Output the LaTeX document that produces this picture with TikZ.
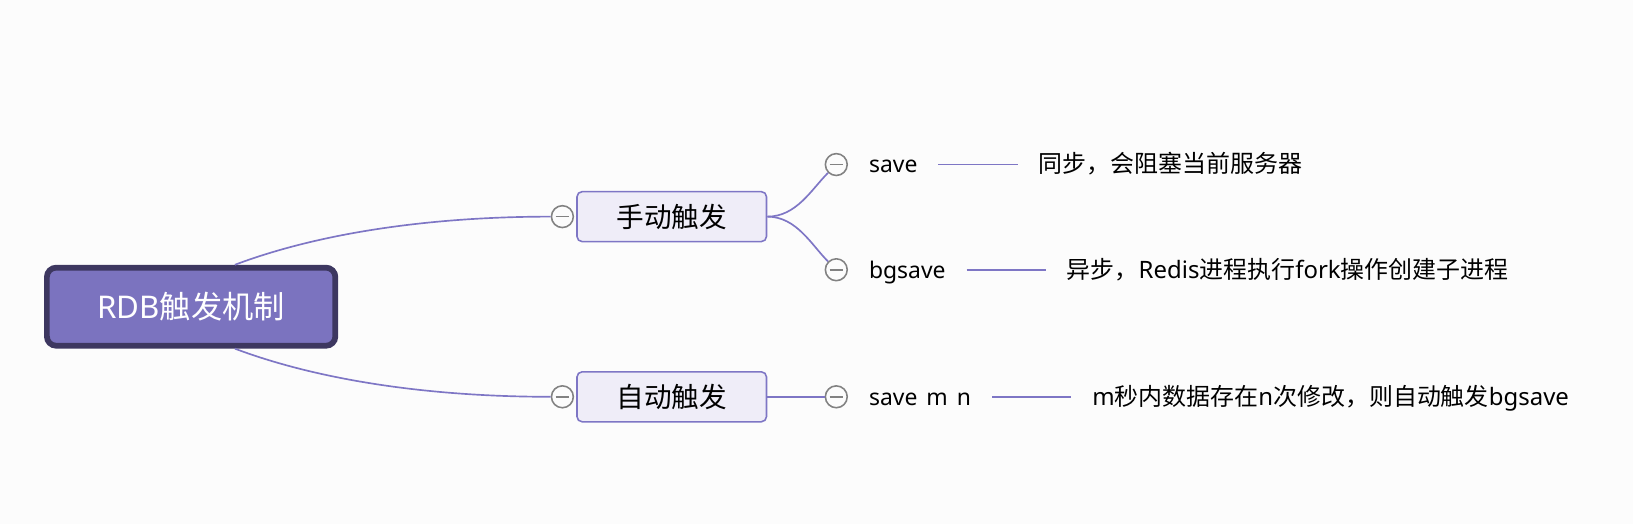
\documentclass[tikz,border=0pt]{standalone}
\usepackage{fontspec}
\setmainfont{Noto Sans CJK SC}
\newfontfamily\lat{Noto Sans}
\usetikzlibrary{positioning}
\definecolor{bgcol}{HTML}{FCFCFC}
\definecolor{lncol}{HTML}{7E76C5}
\definecolor{rootfill}{HTML}{7B73BF}
\definecolor{rootdraw}{HTML}{3D3760}
\definecolor{subfill}{HTML}{EFEDF8}
\definecolor{foldcol}{HTML}{828282}
\tikzset{
  rootbox/.style={draw=rootdraw,line width=5.5pt,fill=rootfill,rounded corners=9pt,
    minimum width=277pt,minimum height=75pt,text=white,font=\fontsize{30}{34}\selectfont},
  subbox/.style={draw=lncol,line width=1.5pt,fill=subfill,rounded corners=5pt,
    minimum width=182pt,minimum height=48pt,font=\fontsize{26.5}{30}\selectfont},
  fold/.style={circle,draw=foldcol,line width=1.5pt,fill=bgcol,minimum size=21pt,inner sep=0pt,
    path picture={\draw[foldcol,line width=1.5pt]
      ([xshift=-6.5pt]path picture bounding box.center) -- ([xshift=6.5pt]path picture bounding box.center);}},
  leaf/.style={inner sep=0pt,text height=16pt,text depth=0pt,font=\fontsize{22}{26}\selectfont\lat},
  desc/.style={leaf,font=\fontsize{23}{27}\selectfont},
  link/.style={lncol,line width=1.6pt},
}
\begin{document}
\begin{tikzpicture}[x=1pt,y=-1pt]
\def\Gap{20pt}
\def\DescGap{116pt}
\path[use as bounding box,fill=bgcol] (0,0) rectangle (1568,503);
\node[rootbox] (root) at (183.5,294.5) {{\lat RDB}触发机制};
\node[subbox] (manual) at (645,208) {手动触发};
\node[subbox] (auto) at (645,381) {自动触发};
\node[fold,left=2pt of manual] (fm) {};
\node[fold,left=2pt of auto] (fa) {};
\node[fold] (fs) at (803,158) {};
\node[fold] (fb) at (803,259) {};
\node[fold] (fn) at (803,381) {};
\node[leaf,right=\Gap of fs] (save) {save};
\node[leaf,right=\Gap of fb] (bgsave) {bgsave};
\node[leaf,right=\Gap of fn] (savemn) {save\hspace{8.7pt}m\hspace{8.7pt}n};
\node[desc,right=\DescGap of save] (saved) {同步，会阻塞当前服务器};
\node[desc,right=\DescGap of bgsave] (bgsaved) {异步，{\lat Redis}进程执行{\lat fork}操作创建子进程};
\node[desc,right=\DescGap of savemn] (savemnd) {{\lat m}秒内数据存在{\lat n}次修改，则自动触发{\lat bgsave}};
\begin{scope}[link]
\draw
  ([xshift=42pt]root.north) .. controls +(85,-32) and +(-110,0) .. (fm.west);
\draw
  ([xshift=42pt]root.south) .. controls +(85,32) and +(-110,0) .. (fa.west);
\draw
  (manual.east) .. controls +(28,0) and +(-16,16) .. (fs.south west);
\draw
  (manual.east) .. controls +(28,0) and +(-16,-16) .. (fb.north west);
\draw
  (auto.east) -- (fn.west);
\draw
  ([xshift=\Gap]save.east) -- ([xshift=-\Gap]saved.west);
\draw
  ([xshift=\Gap]bgsave.east) -- ([xshift=-\Gap]bgsaved.west);
\draw
  ([xshift=\Gap]savemn.east) -- ([xshift=-\Gap]savemnd.west);
\end{scope}
\end{tikzpicture}
\end{document}
